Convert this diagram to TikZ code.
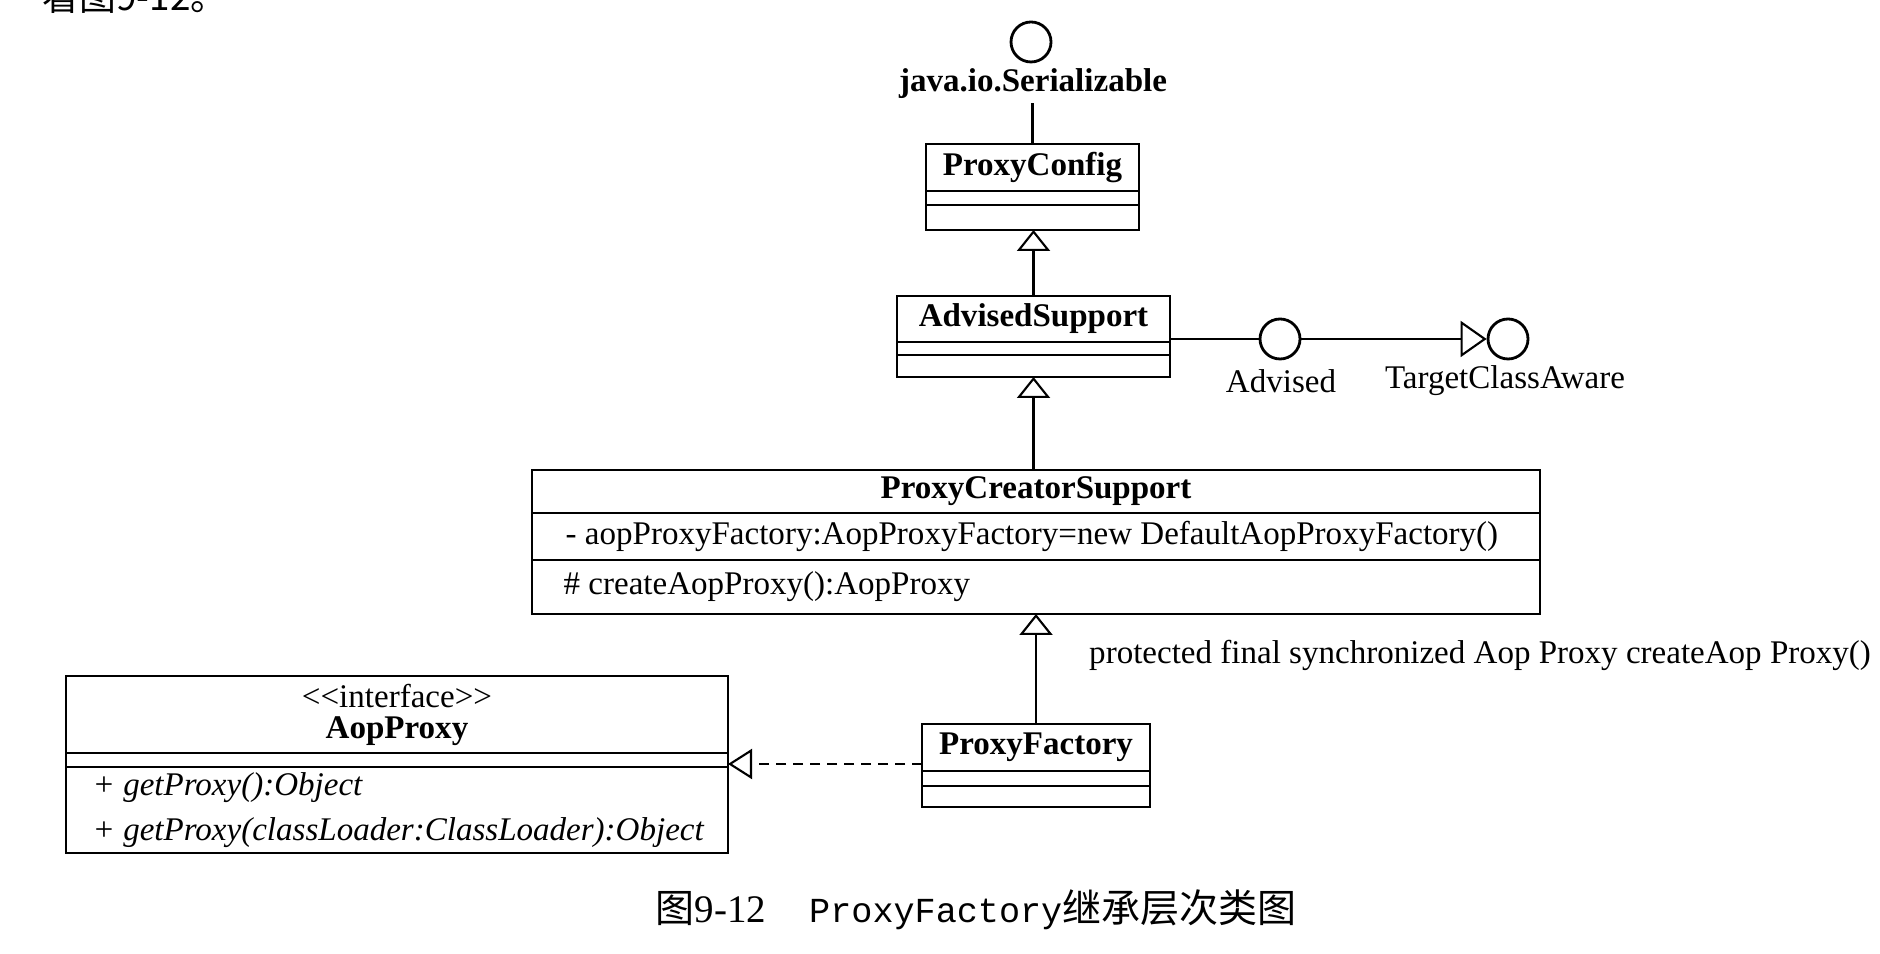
\documentclass[tikz,border=0pt]{standalone}
\usepackage{fontspec}
\setmainfont{Liberation Serif}
\setmonofont{Liberation Mono}
\newfontfamily\cjkfont{Noto Sans CJK SC}
\usetikzlibrary{arrows.meta, positioning}

\begin{document}
\fontsize{9.4}{11.3}\selectfont
\begin{tikzpicture}[
    cls/.style={draw,line width=0.8pt,inner sep=0pt,outer sep=0pt,font=\bfseries},
    cpart/.style={draw,line width=0.8pt,inner sep=0pt,outer sep=0pt},
    iface/.style={draw,circle,line width=0.8pt,minimum size=4mm,inner sep=0pt},
    conn/.style={line width=0.6pt},
    gen/.style={-{Triangle[open,length=2.1mm,width=3.3mm]},line width=0.6pt},
    ifgen/.style={-{Triangle[open,length=2.6mm,width=3.6mm]},line width=0.6pt},
    realize/.style={-{Triangle[open,length=2.4mm,width=3mm]},line width=0.6pt,
                    dash pattern=on 1mm off 0.7mm},
    lbl/.style={inner sep=1pt},
    mbr/.style={inner sep=0pt,align=left}
]
  \useasboundingbox (0,0) rectangle (18.80,-9.54);

  % tail of the previous line of text
  \node[anchor=base west,inner sep=0pt] (prev) at (0.42,-0.11) {\fontsize{10.5}{12}\selectfont\cjkfont 看图9-12。};

  % Serializable
  \node[iface] (ser) at (10.31,-0.42) {};
  \node[lbl,font=\bfseries] (serlbl) at (10.33,-0.84) {java.io.Serializable};

  % ProxyConfig
  \node[cls,minimum width=2.13cm,minimum height=4.7mm] (pconf) at (10.325,-1.675) {ProxyConfig};
  \node[cpart,minimum width=2.13cm,minimum height=1.4mm,below=0pt of pconf] (pconfA) {};
  \node[cpart,minimum width=2.13cm,minimum height=2.5mm,below=0pt of pconfA] (pconfO) {};

  % AdvisedSupport
  \node[cls,minimum width=2.73cm,minimum height=4.6mm] (adv) at (10.335,-3.19) {AdvisedSupport};
  \node[cpart,minimum width=2.73cm,minimum height=1.3mm,below=0pt of adv] (advA) {};
  \node[cpart,minimum width=2.73cm,minimum height=2.2mm,below=0pt of advA] (advO) {};

  % interfaces of AdvisedSupport
  \node[iface] (advd) at (12.80,-3.39) {};
  \node[lbl] (advdlbl) at (12.81,-3.81) {Advised};
  \node[iface] (tca) at (15.08,-3.39) {};
  \node[lbl] (tcalbl) at (15.05,-3.81) {TargetClassAware};

  % ProxyCreatorSupport
  \node[cls,minimum width=10.08cm,minimum height=4.3mm] (pcs) at (10.36,-4.915) {ProxyCreatorSupport};
  \node[cpart,minimum width=10.08cm,minimum height=4.7mm,below=0pt of pcs] (pcsA) {};
  \node[cpart,minimum width=10.08cm,minimum height=5.4mm,below=0pt of pcsA] (pcsO) {};
  \node[mbr,right=3.3mm of pcsA.west] (pcsattr) {- aopProxyFactory:AopProxyFactory=new DefaultAopProxyFactory()};
  \node[mbr,right=3.1mm of pcsO.west] (pcsop) {\# createAopProxy():AopProxy};

  \node[lbl,anchor=west] (prot) at (10.85,-6.55) {protected final synchronized Aop Proxy createAop Proxy()};

  % ProxyFactory
  \node[cls,minimum width=2.28cm,minimum height=4.7mm] (pfac) at (10.36,-7.475) {ProxyFactory};
  \node[cpart,minimum width=2.28cm,minimum height=1.5mm,below=0pt of pfac] (pfacA) {};
  \node[cpart,minimum width=2.28cm,minimum height=2.1mm,below=0pt of pfacA] (pfacO) {};

  % AopProxy
  \node[cls,minimum width=6.62cm,minimum height=7.7mm,align=center] (aop) at (3.97,-7.145)
       {{\mdseries <\kern0pt<interface>\kern0pt>}\\[-2.5pt]AopProxy};
  \node[cpart,minimum width=6.62cm,minimum height=1.4mm,below=0pt of aop] (aopA) {};
  \node[cpart,minimum width=6.62cm,minimum height=8.6mm,below=0pt of aopA] (aopO) {};
  \node[mbr,right=2.6mm of aopO.west,font=\itshape] (aopops)
       {+ getProxy():Object\\[1.5pt]+ getProxy(classLoader:ClassLoader):Object};

  % Connectors
  \draw[conn] (pconf.north) -- (pconf.north |- serlbl.south);
  \draw[gen] (adv.north) -- (adv.north |- pconfO.south);
  \draw[conn] (advd.west -| adv.east) -- (advd.west);
  \draw[ifgen] (advd.east) -- (tca.west);
  \draw[gen] (pcs.north -| advO.south) -- (advO.south);
  \draw[gen] (pfac.north) -- (pfac.north |- pcsO.south);
  \draw[realize] ([yshift=-1.65mm]pfac.west) -- ([yshift=-1.65mm]pfac.west -| aopA.east);

  % Caption
  \node[anchor=west,inner sep=0pt] (cap) at (6.55,-9.10)
       {\fontsize{11.1}{13}\selectfont{\cjkfont 图}9-12\hspace{4.3mm}{\ttfamily\fontsize{10}{12}\selectfont ProxyFactory}{\cjkfont 继承层次类图}};
\end{tikzpicture}
\end{document}
